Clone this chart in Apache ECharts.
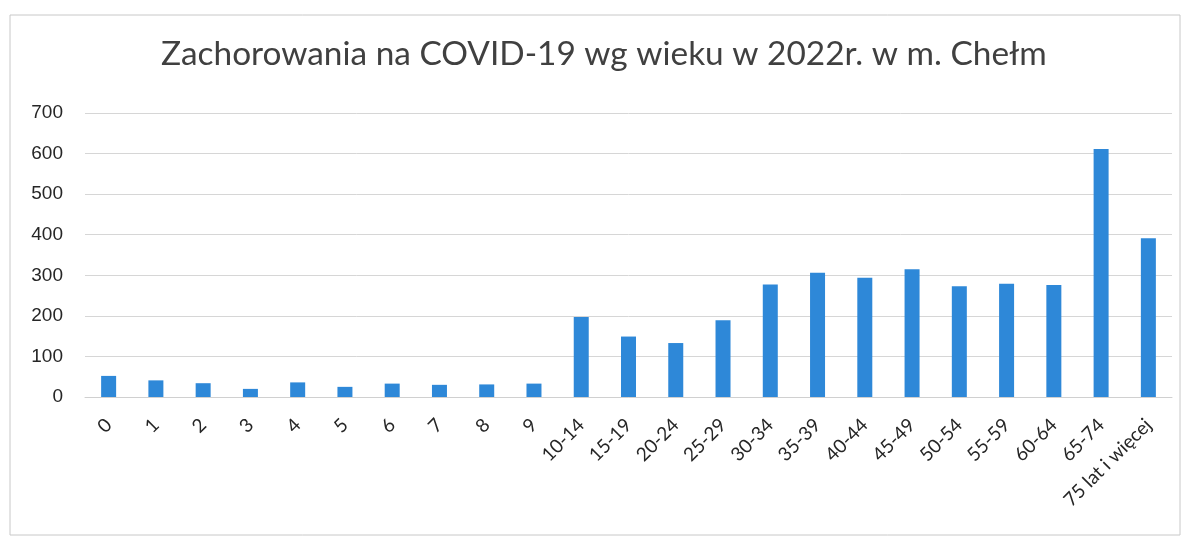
<!DOCTYPE html>
<html>
<head>
<meta charset="utf-8">
<script src="https://cdn.jsdelivr.net/npm/echarts@6/dist/echarts.min.js"></script>
<style>
  html, body { margin: 0; padding: 0; background: #fff; }
  .chart { width: 1188px; height: 539px; }
</style>
</head>
<body>
<div class="chart"></div>
<script>
const title = 'Zachorowania na COVID-19 wg wieku w 2022r. w m. Chełm'
const ageGroups = ['0', '1', '2', '3', '4', '5', '6', '7', '8', '9', '10-14', '15-19', '20-24', '25-29',
  '30-34', '35-39', '40-44', '45-49', '50-54', '55-59', '60-64', '65-74', '75 lat i więcej']
const cases = [52, 41, 34, 20, 36, 25, 33, 30, 31, 33, 197, 149, 133, 189,
  277, 306, 294, 315, 273, 279, 276, 611, 391]
const yTicks = { min: 0, max: 700, interval: 100 }

const chartDom = echarts.init(document.querySelector('.chart'))

const option = {
  animation: false,
  title: {
    text: title,
    left: 156,
    top: 33,
    textStyle: {
      fontFamily: 'Lato',
      fontSize: 33.4,
      fontWeight: 'normal',
      color: '#404040'
    }
  },
  graphic: [
    {
      type: 'rect',
      shape: { x: 10, y: 15, width: 1170, height: 520 },
      style: { fill: 'none', stroke: '#c8c8c8', lineWidth: 1 }
    }
  ],
  grid: {
    left: 85,
    right: 16,
    top: 113,
    bottom: 142
  },
  xAxis: {
    type: 'category',
    data: ageGroups,
    axisTick: { show: false },
    axisLine: { lineStyle: { color: '#d0d0d0' } },
    axisLabel: {
      rotate: 45,
      interval: 0,
      margin: 25,
      fontFamily: 'Lato',
      fontSize: 19,
      color: '#262626'
    }
  },
  yAxis: {
    type: 'value',
    min: yTicks.min,
    max: yTicks.max,
    interval: yTicks.interval,
    axisLine: { show: false },
    axisTick: { show: false },
    splitLine: { lineStyle: { color: '#d6d6d6' } },
    axisLabel: {
      margin: 22,
      fontFamily: 'Liberation Sans',
      fontSize: 19,
      color: '#262626'
    }
  },
  series: [
    {
      type: 'bar',
      data: cases,
      barWidth: 15,
      itemStyle: { color: '#2e88d8' }
    }
  ]
}

chartDom.setOption(option)

window.onresize = () => {
  chartDom.resize()
}
</script>
</body>
</html>
